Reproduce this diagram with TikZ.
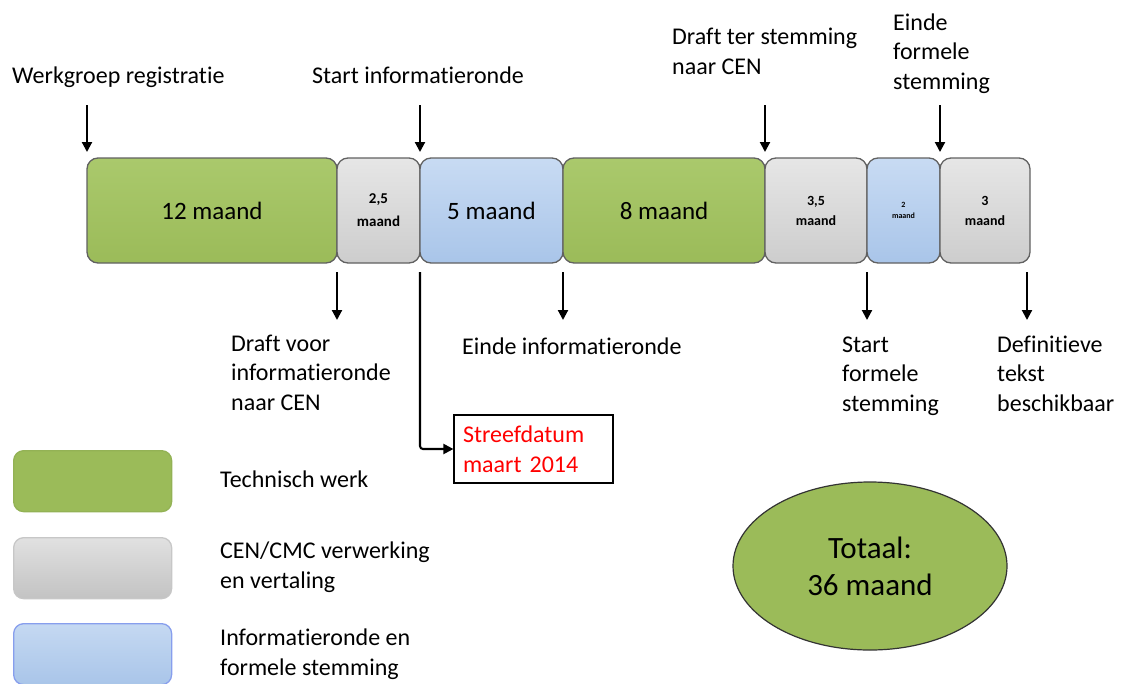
\documentclass[tikz,border=0pt]{standalone}
\usepackage{fontspec}
\setmainfont{Carlito}[Ligatures={NoCommon}]
\usetikzlibrary{positioning}
\usetikzlibrary{arrows.meta}
\usetikzlibrary{shapes.geometric}
\definecolor{groen}{HTML}{9BBB59}
\definecolor{groenlicht}{HTML}{AAC96C}
\definecolor{grijs}{HTML}{CDCDCD}
\definecolor{grijslicht}{HTML}{E6E6E6}
\definecolor{blauw}{HTML}{A9C5E9}
\definecolor{blauwlicht}{HTML}{C8DBF3}
\definecolor{rood}{HTML}{FF0000}
\tikzset{
% blokken op de tijdlijn en in de legenda
blok/.style={rounded corners=11pt,draw=black!62,line width=1.3pt,minimum height=105pt,inner sep=0,outer sep=0,align=center,font=\fontsize{25}{28}\selectfont},
groen blok/.style={blok,top color=groenlicht,bottom color=groen},
grijs blok/.style={blok,top color=grijslicht,bottom color=grijs},
blauw blok/.style={blok,top color=blauwlicht,bottom color=blauw},
legenda/.style={rounded corners=10pt,line width=1.3pt,minimum width=158pt,minimum height=61pt,inner sep=0,anchor=north west},
klein/.style={font=\bfseries\fontsize{14}{20}\selectfont},
pijl/.style={line width=2.1pt,-{Triangle[width=10pt,length=10pt]}},
tekst/.style={inner sep=0,align=left,anchor=base west,font=\fontsize{24}{29.5}\selectfont}
}

\begin{document}
\begin{tikzpicture}[x=1pt,y=-1pt]
		\useasboundingbox (0,0) rectangle (1121,683);
		% De tijdlijn
		\node[groen blok,minimum width=250pt,anchor=north west] (g1) at (87,158) {12 maand};
		\node[grijs blok,minimum width=83pt,right=0pt of g1,font=\bfseries\fontsize{15}{23}\selectfont] (c1) {2,5\\maand};
		\node[blauw blok,minimum width=143pt,right=0pt of c1] (b1) {5 maand};
		\node[groen blok,minimum width=202pt,right=0pt of b1] (g2) {8 maand};
		\node[grijs blok,minimum width=102pt,right=0pt of g2,klein] (c2) {3,5\\maand};
		\node[blauw blok,minimum width=73pt,right=0pt of c2,font=\bfseries\fontsize{8}{11}\selectfont] (b2) {2\\maand};
		\node[grijs blok,minimum width=90pt,right=0pt of b2,klein] (c3) {3\\maand};
		% mijlpalen boven (base = laatste regel)
		\node[tekst] (t1) at (12,83) {Werkgroep registratie};
		\node[tekst] (t2) at (312,83) {Start informatieronde};
		\node[tekst] (t3) at (672,74) {Draft ter stemming\\naar CEN};
		\node[tekst] (t4) at (893,89) {Einde\\formele\\stemming};
		\coordinate (p1) at (87,105);
		\coordinate (p2) at (420,105);
		\coordinate (p3) at (765,105);
		\coordinate (p4) at (940,105);
		\draw[pijl,shorten >=6pt] (p1) -- (g1.north west);
		\draw[pijl,shorten >=6pt] (p2) -- (c1.north east);
		\draw[pijl,shorten >=6pt] (p3) -- (g2.north east);
		\draw[pijl,shorten >=6pt] (p4) -- (b2.north east);
		% mijlpalen onder
		\coordinate (q1) at (337,320);
		\coordinate (q2) at (563,320);
		\coordinate (q3) at (867,320);
		\coordinate (q4) at (1027,320);
		\draw[pijl,shorten <=9pt] (g1.south east) -- (q1);
		\draw[pijl,shorten <=9pt] (b1.south east) -- (q2);
		\draw[pijl,shorten <=9pt] (c2.south east) -- (q3);
		\draw[pijl,shorten <=9pt] ([xshift=-3pt]c3.south east) -- (q4);
		\node[tekst] (o1) at (231,410) {Draft voor\\informatieronde\\naar CEN};
		\node[tekst] (o2) at (462,354) {Einde informatieronde};
		\node[tekst] (o3) at (842,411) {Start\\formele\\stemming};
		\node[tekst] (o4) at (997,411) {Definitieve\\tekst\\beschikbaar};
		% streefdatum
		\node[draw=black,line width=1.2pt,text width=141pt,inner xsep=9pt,inner ysep=0,minimum height=68pt,align=left,text=rood,font=\fontsize{24}{29.5}\selectfont] (sd) at (533.5,449) {Streefdatum\\maart 2014};
		\draw[pijl,shorten <=9pt,rounded corners=3pt] (c1.south east) |- (sd.west);
		% legenda
		\node[legenda,fill=groen,draw=groen!95!black] (l1) at (13,450) {};
		\node[legenda,top color=grijslicht!95!gray,bottom color=grijs!95!black,draw=black!22] (l2) at (13,537) {};
		\node[legenda,top color=blauwlicht!90!blauw,bottom color=blauw,draw=blauw!80!blue] (l3) at (13,623) {};
		\node[tekst] at (220,487) {Technisch werk};
		\node[tekst] at (220,588) {CEN/CMC verwerking\\en vertaling};
		\node[tekst] at (220,675) {Informatieronde en\\formele stemming};
		% totaal
		\node[ellipse,fill=groen,draw=black!80,line width=1.2pt,minimum width=274pt,minimum height=168pt,inner sep=0,align=center,font=\fontsize{31}{37}\selectfont] (tot) at (870,566) {Totaal:\\36 maand};
	\end{tikzpicture}
\end{document}
